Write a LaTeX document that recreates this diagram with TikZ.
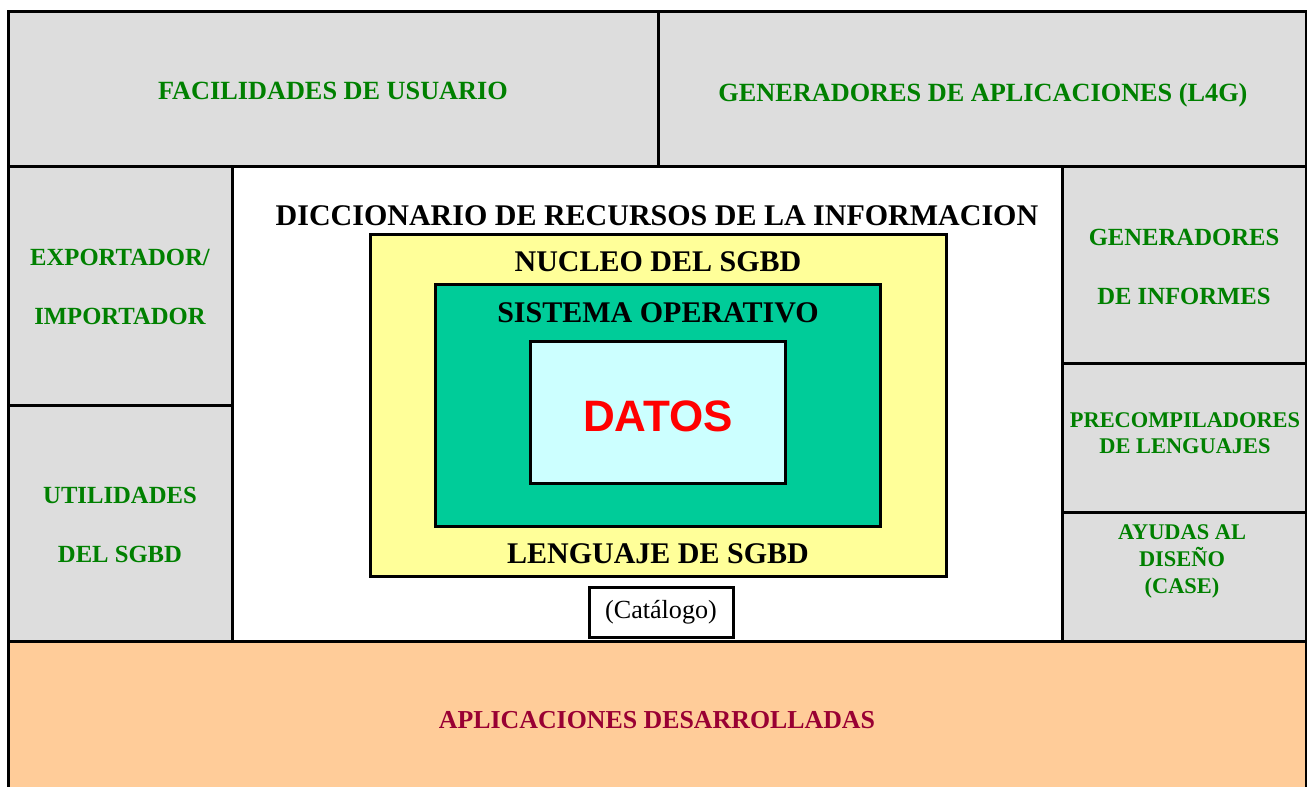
\documentclass[tikz,border=0pt]{standalone}
\usepackage{fontspec}
\setmainfont{Liberation Serif}
\newfontfamily\datosfont{Liberation Sans}
\usepackage{xcolor}
\usepackage{tikz}
\definecolor{grisbox}{RGB}{221,221,221}
\definecolor{verdetxt}{RGB}{0,128,0}
\definecolor{amarillo}{RGB}{255,255,153}
\definecolor{verdeso}{RGB}{0,204,153}
\definecolor{celeste}{RGB}{204,255,255}
\definecolor{naranja}{RGB}{255,204,153}
\definecolor{granate}{RGB}{153,0,51}

\begin{document}
\begin{tikzpicture}[x=0.75pt,y=0.75pt,yscale=-1,xscale=1,
  gris/.style={fill=grisbox,draw=black,line width=2.25pt},
  capa/.style={draw=black,line width=2.25pt},
  verde/.style={text=verdetxt,font=\bfseries\fontsize{18.5}{44}\selectfont,align=center,inner sep=0pt,text depth=0pt},
  verdechico/.style={verde,font=\bfseries\fontsize{16.8}{20}\selectfont},
  negro/.style={font=\bfseries\fontsize{22.5}{27}\selectfont,inner sep=0pt,text depth=0pt}]
\useasboundingbox (0,0) rectangle (1307,787);
%Shape: Rectangle [fondo diccionario]
\draw [fill=white,line width=0.75pt] (232,167) rectangle (1062,641) ;
%Shape: Rectangle [aplicaciones]
\draw [fill=naranja,line width=2.25pt] (8,641) rectangle (1306,792) ;
%Shape: Rectangle [fila superior]
\draw [gris] (8,12) rectangle (658,167) ;
\draw [gris] (658,12) rectangle (1306,167) ;
%Shape: Rectangle [columna izquierda]
\draw [gris] (8,167) rectangle (232,406) ;
\draw [gris] (8,406) rectangle (232,641) ;
%Shape: Rectangle [columna derecha]
\draw [gris] (1062,167) rectangle (1306,364) ;
\draw [gris] (1062,364) rectangle (1306,513) ;
\draw [gris] (1062,513) rectangle (1306,641) ;
%Shape: Rectangle [capas centrales]
\draw [capa,fill=amarillo] (370,235) rectangle (946,577) ;
\draw [capa,fill=verdeso] (435,285) rectangle (880,527) ;
\draw [capa,fill=celeste] (530,342) rectangle (785,484) ;
% Text Node
\draw (333,91) node [verde,font=\bfseries\fontsize{19.7}{24}\selectfont] (facil) {FACILIDADES DE USUARIO};
% Text Node
\draw (983,92) node [verde,font=\bfseries\fontsize{19.7}{24}\selectfont] (genapl) {GENERADORES DE APLICACIONES (L4G)};
% Text Node
\draw (120,287) node [verde] (export) {EXPORTADOR/\\IMPORTADOR};
% Text Node
\draw (120,525) node [verde] (util) {UTILIDADES\\DEL SGBD};
% Text Node
\draw (1184,267) node [verde] (geninf) {GENERADORES\\DE INFORMES};
% Text Node
\draw (1185,433) node [verdechico] (precomp) {PRECOMPILADORES\\DE LENGUAJES};
% Text Node
\draw (1182,559) node [verdechico] (ayudas) {AYUDAS AL\\DISEÑO\\(CASE)};
% Text Node
\draw (657,216) node [negro] (dicc) {DICCIONARIO DE RECURSOS DE LA INFORMACION};
% Text Node
\draw (658,262) node [negro] (nucleo) {NUCLEO DEL SGBD};
% Text Node
\draw (658,313) node [negro] (sisop) {SISTEMA OPERATIVO};
% Text Node
\draw (658,416) node [inner sep=0pt,text depth=0pt,text=red,font=\datosfont\bfseries\fontsize{33}{40}\selectfont] (datos) {DATOS};
% Text Node
\draw (658,554) node [negro] (lenguaje) {LENGUAJE DE SGBD};
% Text Node
\draw (661,612.5) node [draw=black,line width=2.25pt,fill=white,minimum width=108pt,minimum height=36.75pt,font=\fontsize{19.6}{24}\selectfont] (catalogo) {(Catálogo)};
% Text Node
\draw (657,720) node [verde,text=granate,font=\bfseries\fontsize{19.4}{24}\selectfont] (aplic) {APLICACIONES DESARROLLADAS};
\end{tikzpicture}
\end{document}
